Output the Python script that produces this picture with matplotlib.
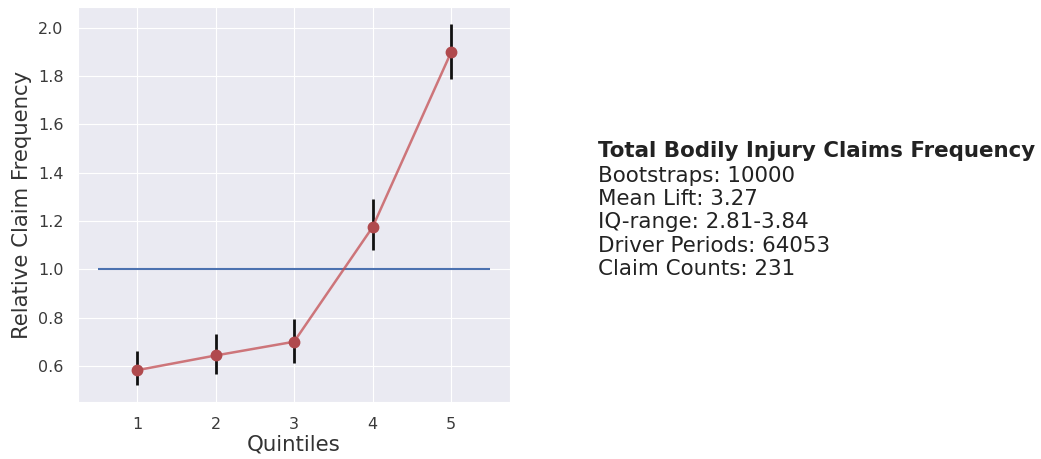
import numpy as np
import matplotlib.pyplot as plt
import seaborn as sns

sns.set_style('darkgrid')

quintiles = [1, 2, 3, 4, 5]
rel_freq = [0.582, 0.643, 0.700, 1.175, 1.900]
err_low = [0.520, 0.568, 0.610, 1.080, 1.790]
err_high = [0.663, 0.733, 0.793, 1.290, 2.017]

title = 'Total Bodily Injury Claims Frequency'
info_lines = ['Bootstraps: 10000',
              'Mean Lift: 3.27',
              'IQ-range: 2.81-3.84',
              'Driver Periods: 64053',
              'Claim Counts: 231']

fig = plt.figure(figsize=(10.41, 4.59), dpi=100)
ax = fig.add_axes([0.075, 0.124, 0.415, 0.861])

yerr = np.array([np.array(rel_freq) - np.array(err_low),
                 np.array(err_high) - np.array(rel_freq)])
ax.hlines(1.0, 0.5, 5.5, color='#4c72b0', lw=1.5, zorder=2)
ax.errorbar(quintiles, rel_freq, yerr=yerr, fmt='none', ecolor='#111111',
            elinewidth=2, zorder=3)
ax.plot(quintiles, rel_freq, color='#c44e52', alpha=0.75, lw=1.8, zorder=4)
ax.plot(quintiles, rel_freq, 'o', color='#b04a4e', ms=7.5, zorder=5)

ax.set_xlim(0.25, 5.75)
ax.set_ylim(0.45, 2.087)
ax.set_xticks(quintiles)
ax.set_yticks([0.6, 0.8, 1.0, 1.2, 1.4, 1.6, 1.8, 2.0])
ax.tick_params(labelsize=11.5, colors='#3a3a3a', pad=7)
ax.set_xlabel('Quintiles', fontsize=15.3, color='#333333', labelpad=2)
ax.set_ylabel('Relative Claim Frequency', fontsize=15.3, color='#333333', labelpad=4)

fig.text(598 / 1041, 1 - 141 / 459, title, fontsize=15.4, fontweight='bold',
         color='#222222', va='top', ha='left')
fig.text(598 / 1041, 1 - 166 / 459, '\n'.join(info_lines), fontsize=15.4,
         color='#222222', va='top', ha='left', linespacing=1.2)

plt.savefig('out.png', dpi=100)
